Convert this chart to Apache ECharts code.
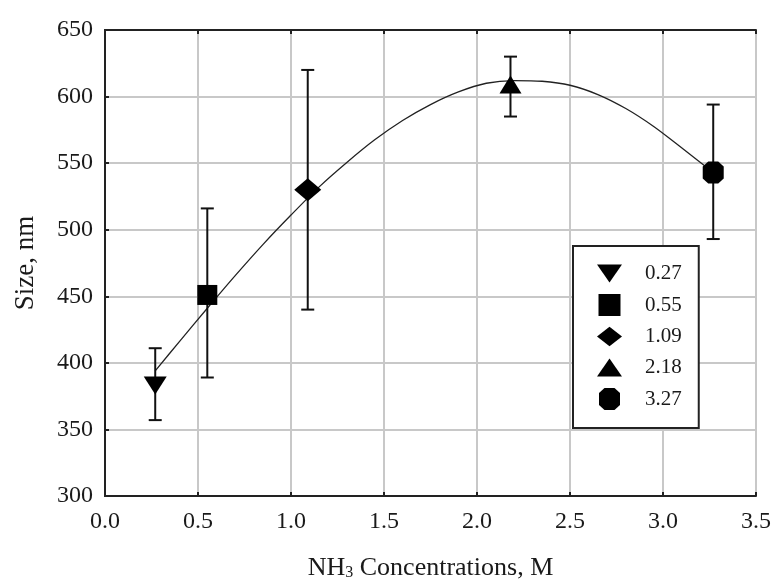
<!DOCTYPE html>
<html>
<head>
<meta charset="utf-8">
<script src="https://cdn.jsdelivr.net/npm/echarts@6/dist/echarts.min.js"></script>
<style>
  html, body { margin: 0; padding: 0; background: #fff; }
  #chart { width: 774px; height: 586px; }
</style>
</head>
<body>
<div id="chart"></div>
<script>
// NH3 concentration (M) and measured particle size (nm) with error ranges
const concentrations = [0.27, 0.55, 1.09, 2.18, 3.27];
const sizes = [383, 451, 530, 609, 543];
const errLow = [357, 389, 440, 585, 493];
const errHigh = [411, 516, 620, 630, 594];
const seriesNames = ['0.27', '0.55', '1.09', '2.18', '3.27'];

// Fitted trend curve
const fitX = [0.27, 0.40, 0.55, 0.70, 0.85, 1.00, 1.15, 1.30, 1.45, 1.60, 1.75, 1.90, 2.05, 2.20, 2.35, 2.50, 2.65, 2.80, 2.95, 3.10, 3.27];
const fitY = [394, 416, 441, 465.5, 489, 511, 532, 550.5, 567.5, 582, 594, 603.5, 610, 612, 611.5, 608.5, 601.5, 591, 577.5, 561.5, 543];

// Axis ticks
const xTicks = [0, 0.5, 1.0, 1.5, 2.0, 2.5, 3.0, 3.5];
const yTicks = [300, 350, 400, 450, 500, 550, 600, 650];

const FONT = 'Liberation Serif, "Times New Roman", serif';
const INK = '#1a1a1a';

const markerPaths = [
  'path://M0,0 L25,0 L12.5,18 Z',
  'path://M0,0 L20,0 L20,20 L0,20 Z',
  'path://M14,0 L28,11 L14,22 L0,11 Z',
  'path://M12.5,0 L25,18 L0,18 Z',
  'path://M5.5,0 L15.5,0 L21,5 L21,17 L15.5,22 L5.5,22 L0,17 L0,5 Z'
];
const markerSizes = [[23, 18], [20, 20], [27, 23], [22, 18], [21, 22]];

const chart = echarts.init(document.getElementById('chart'), null, { renderer: 'canvas' });

const pointSeries = seriesNames.map((name, i) => ({
  name: name,
  type: 'scatter',
  z: 5,
  symbol: markerPaths[i],
  symbolSize: markerSizes[i],
  symbolKeepAspect: false,
  itemStyle: { color: '#000', opacity: 1 },
  data: [[concentrations[i], sizes[i]]]
}));

const option = {
  backgroundColor: '#fff',
  animation: false,
  textStyle: { fontFamily: FONT },
  grid: { left: 105, right: 16, top: 30, bottom: 89 },
  legend: {
    orient: 'vertical',
    left: 573,
    top: 246,
    padding: [17, 17, 18, 24],
    itemGap: 10,
    itemWidth: 25,
    itemHeight: 22,
    symbolKeepAspect: true,
    borderColor: '#222',
    borderWidth: 2,
    backgroundColor: '#fff',
    textStyle: { fontFamily: FONT, fontSize: 21, color: INK, padding: [0, 0, 0, 18] },
    data: seriesNames.map((name, i) => ({ name: name, icon: markerPaths[i], itemStyle: { color: '#000' } }))
  },
  xAxis: [
    {
      type: 'value',
      min: xTicks[0],
      max: xTicks[xTicks.length - 1],
      interval: 0.5,
      name: '{a|NH}{s|3}{a| Concentrations, M}',
      nameLocation: 'middle',
      nameGap: 58,
      nameTextStyle: {
        rich: {
          a: { fontFamily: FONT, fontSize: 26, color: INK, verticalAlign: 'bottom', lineHeight: 27 },
          s: { fontFamily: FONT, fontSize: 16, color: INK, verticalAlign: 'bottom', lineHeight: 10 }
        }
      },
      axisLine: { show: true, onZero: false, lineStyle: { color: '#222', width: 2 } },
      axisTick: { show: true, inside: true, length: 4, lineStyle: { color: '#222', width: 2 } },
      axisLabel: {
        fontFamily: FONT, fontSize: 24, color: INK, margin: 14,
        formatter: v => v.toFixed(1)
      },
      splitLine: { show: true, lineStyle: { color: '#c8c8c8', width: 2 } }
    },
    {
      type: 'value',
      position: 'top',
      min: xTicks[0],
      max: xTicks[xTicks.length - 1],
      interval: 0.5,
      axisLine: { show: true, lineStyle: { color: '#222', width: 2 } },
      axisTick: { show: true, inside: true, length: 4, lineStyle: { color: '#222', width: 2 } },
      axisLabel: { show: false },
      splitLine: { show: false }
    }
  ],
  yAxis: [
    {
      type: 'value',
      min: yTicks[0],
      max: yTicks[yTicks.length - 1],
      interval: 50,
      name: 'Size, nm',
      nameLocation: 'middle',
      nameGap: 66,
      nameTextStyle: { fontFamily: FONT, fontSize: 27, color: INK },
      axisLine: { show: true, onZero: false, lineStyle: { color: '#222', width: 2 } },
      axisTick: { show: true, inside: true, length: 4, lineStyle: { color: '#222', width: 2 } },
      axisLabel: { fontFamily: FONT, fontSize: 24, color: INK, margin: 12 },
      splitLine: { show: true, lineStyle: { color: '#c8c8c8', width: 2 } }
    },
    {
      type: 'value',
      position: 'right',
      min: yTicks[0],
      max: yTicks[yTicks.length - 1],
      interval: 50,
      axisLine: { show: true, lineStyle: { color: '#222', width: 2 } },
      axisTick: { show: false },
      axisLabel: { show: false },
      splitLine: { show: false }
    }
  ],
  series: [
    {
      name: 'fit',
      type: 'line',
      smooth: 0.3,
      showSymbol: false,
      symbol: 'none',
      z: 2,
      lineStyle: { color: '#222', width: 1.3 },
      data: fitX.map((x, i) => [x, fitY[i]])
    },
    {
      name: 'error',
      type: 'custom',
      z: 3,
      renderItem: function (params, api) {
        const x = api.value(0);
        const pLo = api.coord([x, api.value(1)]);
        const pHi = api.coord([x, api.value(2)]);
        const hw = 6.5;
        const st = { stroke: '#111', lineWidth: 2 };
        return {
          type: 'group',
          children: [
            { type: 'line', shape: { x1: pLo[0], y1: pLo[1], x2: pHi[0], y2: pHi[1] }, style: st },
            { type: 'line', shape: { x1: pLo[0] - hw, y1: pLo[1], x2: pLo[0] + hw, y2: pLo[1] }, style: st },
            { type: 'line', shape: { x1: pHi[0] - hw, y1: pHi[1], x2: pHi[0] + hw, y2: pHi[1] }, style: st }
          ]
        };
      },
      encode: { x: 0, y: [1, 2] },
      data: concentrations.map((c, i) => [c, errLow[i], errHigh[i]])
    }
  ].concat(pointSeries)
};

chart.setOption(option);
</script>
</body>
</html>
